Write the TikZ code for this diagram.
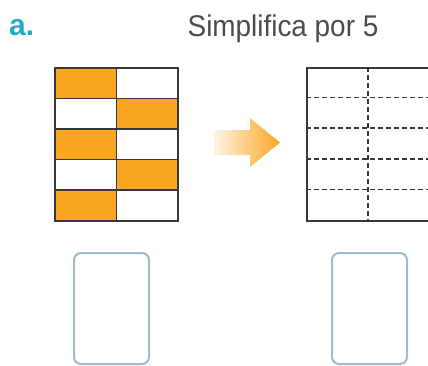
\documentclass[tikz,border=0pt]{standalone}
\usepackage{fontspec}
\setmainfont{Liberation Sans}
\definecolor{naranja}{RGB}{250,166,32}
\definecolor{turquesa}{RGB}{38,170,196}
\definecolor{tinta}{RGB}{55,55,60}
\definecolor{marco}{RGB}{160,185,205}
\begin{document}
\begin{tikzpicture}
		[x=1pt,y=-1pt,
		celda/.style={rectangle,draw=tinta,line width=1.6pt,inner sep=0pt,minimum width=61.5pt,minimum height=30.6pt,anchor=north west},
		caja/.style={rectangle,draw=marco,line width=2pt,rounded corners=7pt,inner sep=0pt,minimum width=75pt,minimum height=111pt,anchor=north west},
		guion/.style={draw=tinta,line width=1.6pt,dash pattern=on 5pt off 3pt}]
		\useasboundingbox (0,0) rectangle (428,365);
		% encabezado
		\node[anchor=base west,inner sep=0pt,text=turquesa,font=\fontsize{30}{30}\selectfont\bfseries,name=letra] at (9,35) {a.};
		\node[anchor=base,inner sep=0pt,text=tinta!90,font=\fontsize{30}{30}\selectfont,xscale=0.93,name=titulo] at (283,36) {Simplifica por 5};
		% rejilla coloreada
		\foreach \f in {0,...,4}
		{
			\foreach \c in {0,1}
			{
				\pgfmathtruncatemacro{\paridad}{mod(\f+\c,2)}
				\ifnum\paridad=0
					\node[celda,fill=naranja,name=c\f\c] at ({54+61.5*\c},{67+30.6*\f}) {};
				\else
					\node[celda,fill=white,name=c\f\c] at ({54+61.5*\c},{67+30.6*\f}) {};
				\fi
			}
		}
		% flecha
		\shade[left color=naranja!12,right color=naranja]
			(214,130) -- (250,130) -- (250,118) -- (280,142.5) -- (250,167) -- (250,155) -- (214,155) -- cycle;
		% rejilla punteada
		\node[rectangle,draw=tinta,line width=1.6pt,inner sep=0pt,minimum width=122pt,minimum height=153pt,anchor=north west,name=vacia] at (306,67) {};
		\foreach \f in {1,...,4}
		{
			\draw[guion] (vacia.north west) ++(0,{30.6*\f}) -- ++(122,0);
		}
		\draw[guion] (vacia.north) -- (vacia.south);
		% casillas de respuesta
		\node[caja,name=r1] at (73,252) {};
		\node[caja,name=r2] at (331,252) {};
	\end{tikzpicture}
\end{document}
